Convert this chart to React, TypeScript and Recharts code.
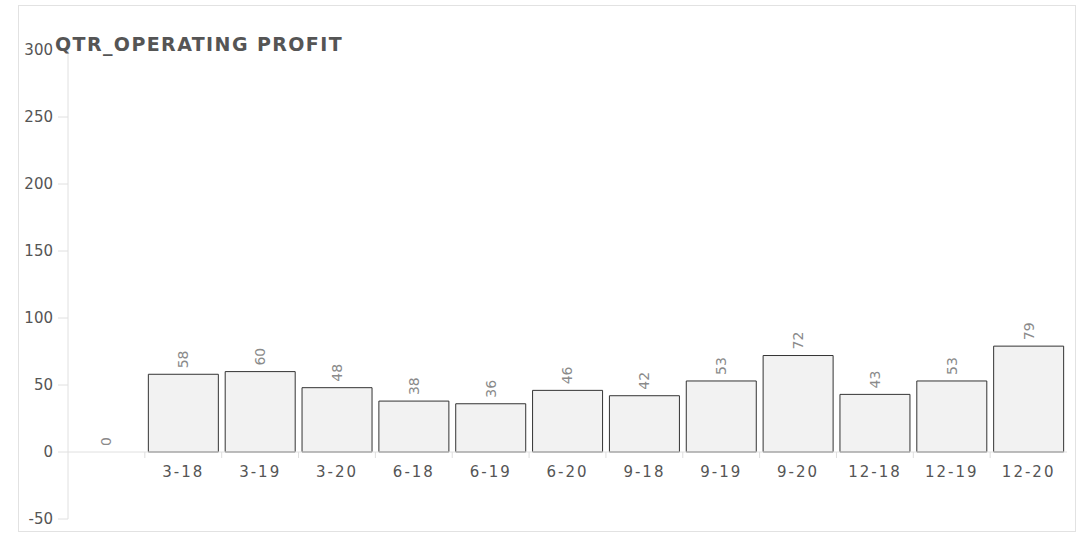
import { ComposedChart, Bar, Line, XAxis, YAxis, ReferenceLine, LabelList } from "recharts";

const quarters = ["", "3-18", "3-19", "3-20", "6-18", "6-19", "6-20", "9-18", "9-19", "9-20", "12-18", "12-19", "12-20"];
const profit = [0, 58, 60, 48, 38, 36, 46, 42, 53, 72, 43, 53, 79];
const yTicks = [-50, 0, 50, 100, 150, 200, 250, 300];

const data = quarters.map((q, i) => ({ name: q, value: profit[i] }));

const FONT = "'DejaVu Sans', Verdana, sans-serif";
const HALF_GAP = 3.5;

// rotated value label, drawn off the invisible line so the 0 shows too
function ValueLabel(props: any) {
  const { x, y, value } = props;
  const cy = y - 6;
  return (
    <text
      x={x}
      y={cy}
      transform={`rotate(-90 ${x} ${cy})`}
      textAnchor="start"
      dominantBaseline="central"
      fill="#8a8a8a"
      fontSize={14}
      fontFamily={FONT}
    >
      {value}
    </text>
  );
}

// category text + tick marks under the zero line
function CategoryLabel(props: any) {
  const { x, y, width, height, value, index } = props;
  const base = y + Math.max(height, 0);
  const left = x - HALF_GAP;
  const right = x + width + HALF_GAP;
  return (
    <g>
      <line x1={left} y1={base} x2={left} y2={base + 6} stroke="#dedede" />
      {index === quarters.length - 1 && (
        <line x1={right} y1={base} x2={right} y2={base + 6} stroke="#dedede" />
      )}
      <text
        x={x + width / 2}
        y={base + 20}
        textAnchor="middle"
        dominantBaseline="central"
        fill="#555"
        fontSize={15}
        letterSpacing={2}
        fontFamily={FONT}
      >
        {value}
      </text>
    </g>
  );
}

export default function App() {
  return (
    <div
      style={{
        position: "absolute",
        left: 18,
        top: 5,
        width: 1058,
        height: 527,
        boxSizing: "border-box",
        border: "1px solid #e2e2e2",
        background: "#fff",
      }}
    >
      <div
        style={{
          position: "absolute",
          left: 36,
          top: 27,
          fontFamily: FONT,
          fontWeight: "bold",
          fontSize: 19,
          letterSpacing: 1.4,
          lineHeight: "22px",
          color: "#555",
          zIndex: 2,
        }}
      >
        QTR_OPERATING PROFIT
      </div>
      <ComposedChart
        width={1056}
        height={525}
        data={data}
        margin={{ top: 44, right: 8, bottom: 12, left: 4 }}
        barCategoryGap={HALF_GAP}
      >
        <XAxis dataKey="name" hide />
        <YAxis
          width={45}
          domain={[-50, 300]}
          ticks={yTicks}
          interval={0}
          axisLine={{ stroke: "#e0e0e0" }}
          tickLine={{ stroke: "#e0e0e0" }}
          tickSize={10}
          tickMargin={5}
          tick={{ fill: "#555", fontSize: 15, fontFamily: FONT }}
        />
        <ReferenceLine y={0} stroke="#e0e0e0" />
        <Bar dataKey="value" fill="#f2f2f2" stroke="#333" strokeWidth={1} isAnimationActive={false}>
          <LabelList dataKey="name" content={<CategoryLabel />} />
        </Bar>
        <Line
          dataKey="value"
          stroke="none"
          dot={false}
          activeDot={false}
          legendType="none"
          isAnimationActive={false}
        >
          <LabelList dataKey="value" content={<ValueLabel />} />
        </Line>
      </ComposedChart>
    </div>
  );
}
